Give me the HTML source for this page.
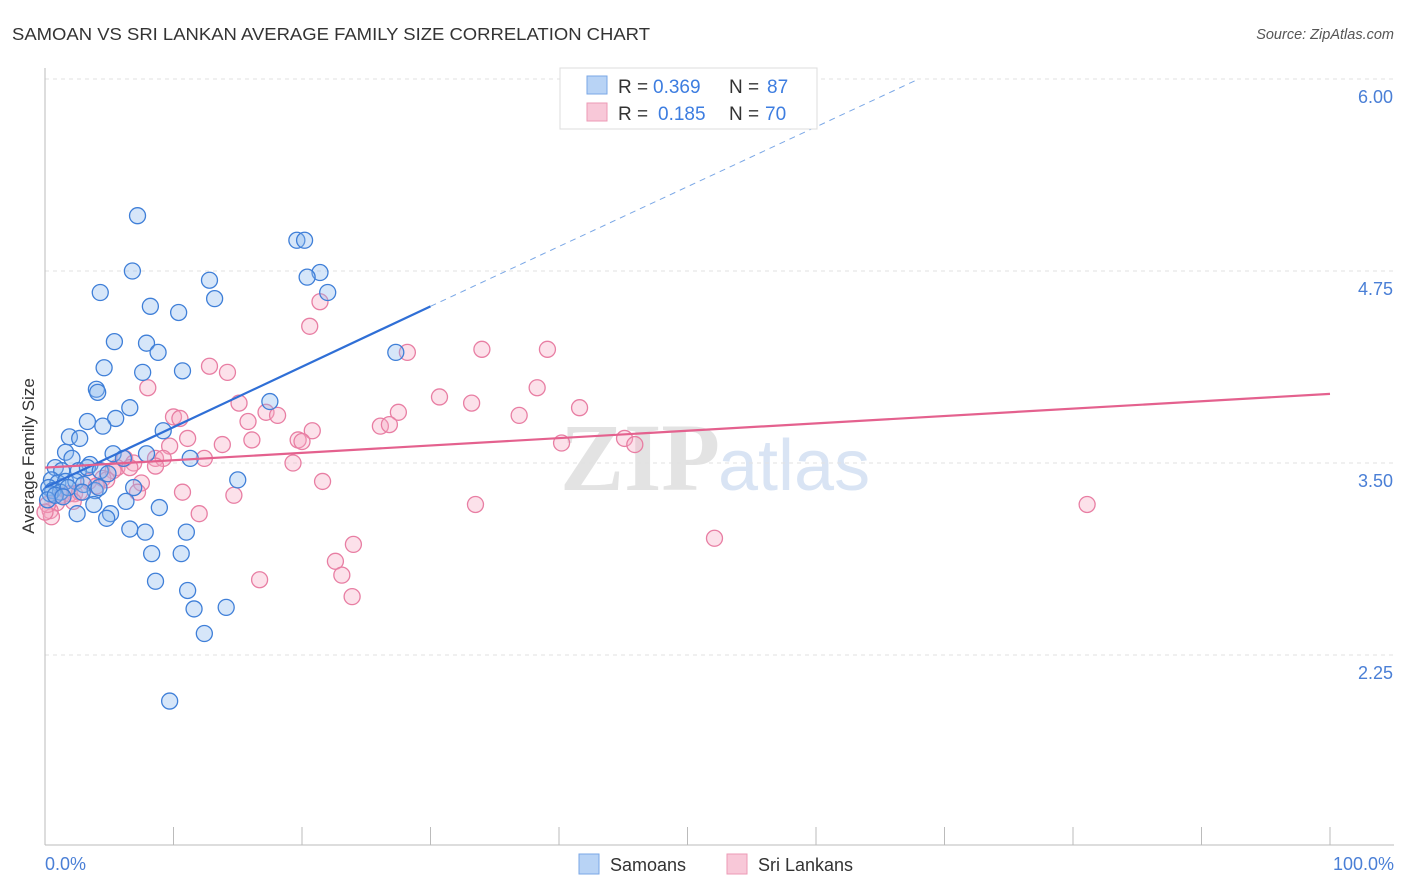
<!DOCTYPE html>
<html><head><meta charset="utf-8"><style>
body{margin:0;background:#fff;font-family:"Liberation Sans",sans-serif;}
svg{display:block}
</style></head><body>
<svg id="chart" width="1406" height="892">
<text x="12" y="40" font-size="17.5" fill="#333" textLength="638" lengthAdjust="spacingAndGlyphs">SAMOAN VS SRI LANKAN AVERAGE FAMILY SIZE CORRELATION CHART</text>
<text x="1394" y="39" font-size="14.5" fill="#555" font-style="italic" text-anchor="end">Source: ZipAtlas.com</text>
<text x="720" y="490" font-size="96" fill="#d8d8d8" text-anchor="end" font-family="Liberation Serif,serif" font-weight="bold" opacity="0.7">ZIP</text>
<text x="718" y="490" font-size="72" fill="#c9daf0" opacity="0.7">atlas</text>
<g id="grid"></g><g id="axes"></g><g id="marks"></g>
<text transform="translate(34,456) rotate(-90)" font-size="17" fill="#333" text-anchor="middle">Average Family Size</text>
<text x="45" y="870" font-size="18" fill="#4a7fd6">0.0%</text>
<text x="1394" y="870" font-size="18" fill="#4a7fd6" text-anchor="end">100.0%</text>
<g>
<rect x="560" y="68" width="257" height="61" fill="#fff" stroke="#ddd"/>
<rect x="587" y="76" width="20" height="18" fill="#b8d3f5" stroke="#7aa7e6"/>
<rect x="587" y="103" width="20" height="18" fill="#f8c8d8" stroke="#ec9ab6"/>
<text x="618" y="93" font-size="19" fill="#333">R =</text>
<text x="653" y="93" font-size="19" fill="#3d7de0">0.369</text>
<text x="729" y="93" font-size="19" fill="#333">N =</text>
<text x="767" y="93" font-size="19" fill="#3d7de0">87</text>
<text x="618" y="120" font-size="19" fill="#333">R =</text>
<text x="658" y="120" font-size="19" fill="#3d7de0">0.185</text>
<text x="729" y="120" font-size="19" fill="#333">N =</text>
<text x="765" y="120" font-size="19" fill="#3d7de0">70</text>
</g>
<g>
<rect x="579" y="854" width="20" height="20" fill="#b8d3f5" stroke="#7aa7e6"/>
<text x="610" y="871" font-size="18" fill="#333">Samoans</text>
<rect x="727" y="854" width="20" height="20" fill="#f8c8d8" stroke="#ec9ab6"/>
<text x="758" y="871" font-size="18" fill="#333">Sri Lankans</text>
</g>
</svg>
<script>
const yTicks=[6.00,4.75,3.50,2.25];
const xTickPcts=[0,10,20,30,40,50,60,70,80,90,100];
const blueX=[7.2,19.6,20.2,6.8,12.8,21.4,20.4,4.3,13.2,22.0,8.2,10.4,5.4,7.9,8.8,27.3,4.6,7.6,10.7,4.0,4.1,6.6,3.3,5.5,4.5,9.2,1.9,2.7,17.5,1.6,2.1,3.5,5.3,6.1,7.9,11.3,0.8,1.3,2.6,3.3,4.3,4.9,0.5,1.0,1.6,2.4,3.0,3.9,0.3,0.6,1.2,1.8,2.9,4.2,6.9,15.0,3.8,6.3,8.9,5.1,2.5,4.8,6.6,7.8,11.0,8.3,10.6,8.6,11.1,11.6,14.1,12.4,9.7,0.4,0.2,0.8,1.4];
const blueY=[5.11,4.95,4.95,4.75,4.69,4.74,4.71,4.61,4.57,4.61,4.52,4.48,4.29,4.28,4.22,4.22,4.12,4.09,4.10,3.98,3.96,3.86,3.77,3.79,3.74,3.71,3.67,3.66,3.90,3.57,3.53,3.49,3.56,3.53,3.56,3.53,3.47,3.45,3.45,3.47,3.45,3.43,3.39,3.37,3.38,3.38,3.36,3.32,3.34,3.32,3.31,3.34,3.31,3.34,3.34,3.39,3.23,3.25,3.21,3.17,3.17,3.14,3.07,3.05,3.05,2.91,2.91,2.73,2.67,2.55,2.56,2.39,1.95,3.30,3.26,3.29,3.28];
const pinkX=[21.4,20.6,28.2,34.0,39.1,12.8,14.2,8.0,38.3,30.7,33.2,15.1,41.6,27.5,10.0,10.5,17.2,18.1,36.9,15.8,26.1,26.8,20.8,11.1,19.7,20.0,13.8,16.1,45.1,45.9,40.2,9.7,8.6,6.2,6.9,9.2,12.4,19.3,5.6,8.6,5.3,6.6,4.5,4.8,7.5,3.4,4.0,2.3,7.2,10.7,21.6,14.7,1.3,1.9,2.7,0.9,0.4,0.5,2.2,12.0,33.5,81.1,52.1,24.0,22.6,23.1,16.7,23.9,0.2,0.0];
const pinkY=[4.55,4.39,4.22,4.24,4.24,4.13,4.09,3.99,3.99,3.93,3.89,3.89,3.86,3.83,3.80,3.79,3.83,3.81,3.81,3.77,3.74,3.75,3.71,3.66,3.65,3.64,3.62,3.65,3.66,3.62,3.63,3.61,3.53,3.53,3.50,3.53,3.53,3.50,3.47,3.48,3.45,3.47,3.40,3.39,3.37,3.38,3.35,3.30,3.31,3.31,3.38,3.29,3.29,3.30,3.31,3.24,3.19,3.15,3.25,3.17,3.23,3.23,3.01,2.97,2.86,2.77,2.74,2.63,3.23,3.18];
const blueTrend=[[0,3.34],[30,4.52],[68,6.0]];
const pinkTrend=[[0,3.47],[100,3.95]];
const NS='http://www.w3.org/2000/svg';
const X=p=>45+p*12.85;
const Y=v=>79+(6-v)*153.6;
function mk(tag,attrs,parent){const e=document.createElementNS(NS,tag);for(const k in attrs)e.setAttribute(k,attrs[k]);document.getElementById(parent).appendChild(e);return e;}
yTicks.forEach((t,i)=>{
 const g=mk('line',{x1:45,x2:1394,y1:Y(t),y2:Y(t),stroke:'#e2e2e2','stroke-dasharray':'4,4'},'grid');
 
 
 const l=mk('text',{x:1393,y:Y(t)+24,'font-size':18,fill:'#4a7fd6','text-anchor':'end'},'axes');
 l.textContent=t.toFixed(2);
 
 
});
const ax=mk('line',{x1:45,x2:45,y1:68,y2:845,stroke:'#bbb'},'axes');


const bx=mk('line',{x1:45,x2:1394,y1:845,y2:845,stroke:'#bbb'},'axes');


xTickPcts.forEach(p=>{
 const t=mk('line',{x1:X(p),x2:X(p),y1:827,y2:845,stroke:'#bbb'},'axes');
 
 
});
function dots(xs,ys,fill,stroke,name){
 xs.forEach((x,i)=>{
  const c=mk('circle',{cx:X(x),cy:Y(ys[i]),r:8,fill:fill,'fill-opacity':0.35,stroke:stroke,'stroke-width':1.3},'marks');
  
  
 });
}
dots(pinkX,pinkY,'#f5a8c2','#e87ea3','srilankan-point');
dots(blueX,blueY,'#8ab8ee','#3f7fd8','samoan-point');
const b1=mk('line',{x1:X(blueTrend[0][0]),y1:Y(blueTrend[0][1]),x2:X(blueTrend[1][0]),y2:Y(blueTrend[1][1]),stroke:'#2f6fd6','stroke-width':2.2},'marks');


const b2=mk('line',{x1:X(blueTrend[1][0]),y1:Y(blueTrend[1][1]),x2:X(blueTrend[2][0]),y2:Y(blueTrend[2][1]),stroke:'#7aa7e6','stroke-width':1,'stroke-dasharray':'6,5'},'marks');


const p1=mk('line',{x1:X(pinkTrend[0][0]),y1:Y(pinkTrend[0][1]),x2:X(pinkTrend[1][0]),y2:Y(pinkTrend[1][1]),stroke:'#e4618e','stroke-width':2.2},'marks');


</script>
</body></html>
